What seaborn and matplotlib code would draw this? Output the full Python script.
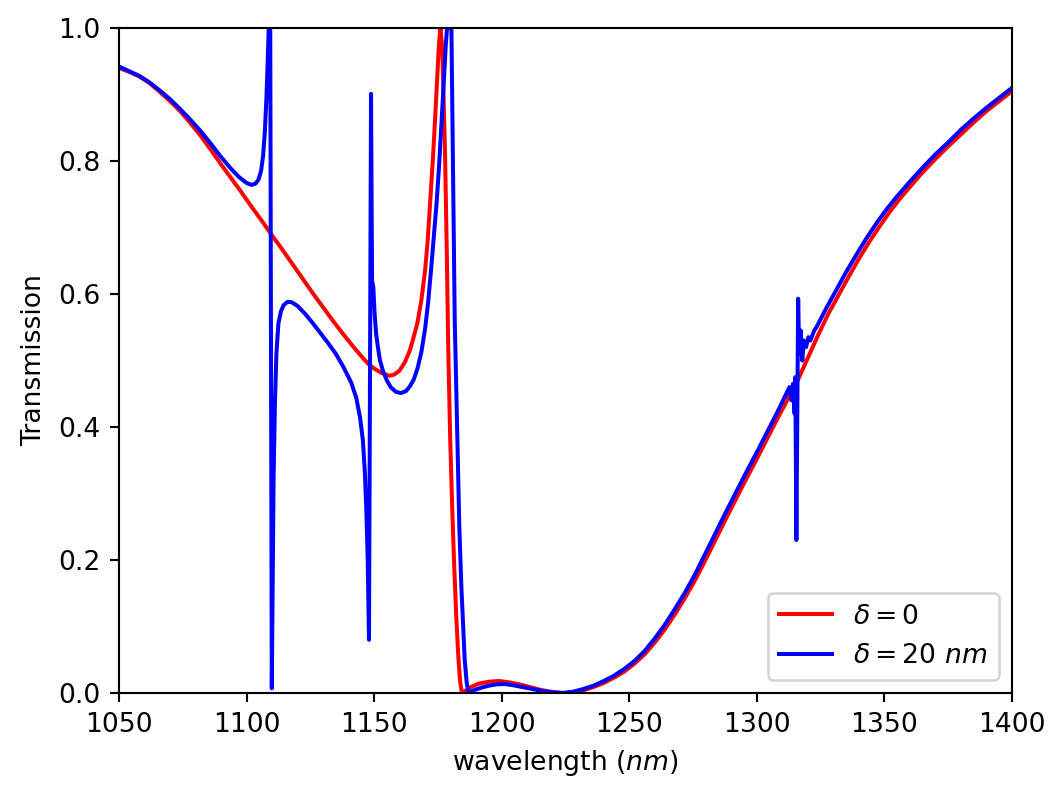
import numpy as np
import pandas as pd
import matplotlib
matplotlib.use("Agg")
import matplotlib.pyplot as plt
import seaborn as sns

# ---- data ----
wl_red = [1050, 1054, 1058, 1062, 1066, 1070, 1074, 1078, 1082, 1086, 1090, 1094, 1098,
          1102, 1106, 1110, 1114, 1118, 1122, 1126, 1130, 1134, 1138, 1142, 1146, 1148,
          1150, 1153, 1156, 1158, 1160, 1162, 1164, 1165.5, 1167, 1168.5, 1170, 1171,
          1172, 1173, 1174, 1174.8, 1175.4, 1176.0, 1176.7, 1177.2, 1177.8, 1178.5,
          1179.1, 1179.8, 1180.6, 1181.4, 1182.2, 1183.0, 1183.7, 1184.4,
          1186, 1188, 1191, 1195, 1199, 1203, 1207, 1211, 1215, 1219, 1224,
          1228, 1232, 1236, 1240, 1244, 1248, 1252, 1256, 1260, 1264, 1268, 1272, 1276,
          1280, 1284, 1288, 1292, 1296, 1300, 1304, 1308, 1312, 1316, 1320, 1324, 1328,
          1332, 1336, 1340, 1344, 1348, 1352, 1356, 1360, 1365, 1370, 1375, 1380, 1385,
          1390, 1395, 1400]
t_red = [0.940, 0.934, 0.927, 0.917, 0.904, 0.890, 0.875, 0.857, 0.838, 0.817, 0.795, 0.774, 0.753,
         0.731, 0.710, 0.688, 0.667, 0.645, 0.623, 0.601, 0.580, 0.559, 0.539, 0.520, 0.502, 0.494,
         0.488, 0.481, 0.477, 0.479, 0.485, 0.497, 0.515, 0.535, 0.557, 0.590, 0.636, 0.680,
         0.740, 0.800, 0.870, 0.930, 0.975, 1.000, 0.970, 0.900, 0.812, 0.660,
         0.510, 0.385, 0.280, 0.190, 0.115, 0.055, 0.018, 0.000,
         0.004, 0.009, 0.014, 0.017, 0.018, 0.016, 0.013, 0.009, 0.005, 0.002, 0.000,
         0.001, 0.004, 0.009, 0.015, 0.023, 0.032, 0.044, 0.058, 0.076, 0.096, 0.119, 0.144, 0.171,
         0.201, 0.232, 0.263, 0.293, 0.323, 0.352, 0.382, 0.412, 0.441, 0.470, 0.504, 0.538, 0.570,
         0.598, 0.626, 0.653, 0.678, 0.701, 0.723, 0.743, 0.761, 0.783, 0.803, 0.822, 0.840, 0.858,
         0.875, 0.890, 0.905]

wl_blue = [1050, 1054, 1058, 1062, 1066, 1070, 1074, 1078, 1082, 1086, 1090, 1094, 1097,
           1100, 1102, 1103.5, 1104.7, 1105.7, 1106.5, 1107.2, 1107.8, 1108.3, 1108.7, 1109.3,
           1109.9, 1110.2, 1110.6, 1111.1, 1111.7, 1112.5, 1113.5, 1114.5, 1116, 1117.5,
           1120, 1123, 1126, 1129, 1132, 1135, 1138, 1141, 1143, 1144.5, 1145.6, 1146.4,
           1147.0, 1147.5, 1148.0, 1148.8, 1149.2, 1149.7, 1150.2, 1150.8, 1151.5, 1152.3,
           1153.5, 1155, 1156.5, 1158.5, 1160.5, 1162.5, 1164, 1165.5, 1167, 1168.5, 1170,
           1171.2, 1172.4, 1173.5, 1174.5, 1175.5, 1176.5, 1177.4, 1178.1, 1178.6, 1180.3,
           1181.0, 1181.6, 1182.6, 1183.4, 1184.2, 1185.5, 1186.3, 1187.0,
           1189, 1192, 1195, 1198, 1201, 1204, 1208, 1212, 1216, 1220, 1224,
           1228, 1232, 1236, 1240, 1244, 1248, 1252, 1256, 1260, 1264, 1268, 1272, 1276,
           1280, 1284, 1288, 1292, 1296, 1300, 1304, 1308, 1311.7, 1312.8, 1313.6, 1314.2,
           1314.8, 1315.1, 1315.5, 1316.2, 1316.6, 1317.2, 1317.8, 1318.5, 1319.3, 1320.2,
           1321.0, 1322.5, 1323.5, 1327, 1331, 1335, 1339, 1343, 1347, 1351, 1355, 1360,
           1365, 1370, 1375, 1380, 1385, 1390, 1395, 1400]
t_blue = [0.942, 0.935, 0.928, 0.918, 0.906, 0.893, 0.878, 0.862, 0.845, 0.826, 0.806, 0.788, 0.776,
          0.767, 0.764, 0.766, 0.772, 0.785, 0.808, 0.845, 0.895, 0.950, 1.000, 1.000,
          0.007, 0.150, 0.320, 0.430, 0.510, 0.556, 0.574, 0.583, 0.588, 0.588,
          0.582, 0.570, 0.556, 0.541, 0.526, 0.510, 0.490, 0.467, 0.444, 0.414, 0.380, 0.330,
          0.270, 0.200, 0.080, 0.901, 0.620, 0.610, 0.570, 0.540, 0.520, 0.500,
          0.484, 0.470, 0.460, 0.453, 0.451, 0.454, 0.461, 0.471, 0.488, 0.512, 0.548,
          0.588, 0.640, 0.690, 0.737, 0.795, 0.862, 0.925, 0.975, 1.000, 1.000,
          0.761, 0.561, 0.385, 0.250, 0.160, 0.050, 0.015, 0.000,
          0.004, 0.008, 0.011, 0.013, 0.0135, 0.012, 0.009, 0.006, 0.003, 0.001, 0.000,
          0.002, 0.006, 0.011, 0.018, 0.026, 0.036, 0.048, 0.063, 0.082, 0.103, 0.127, 0.152, 0.180,
          0.211, 0.242, 0.273, 0.303, 0.333, 0.362, 0.392, 0.422, 0.451, 0.460, 0.440, 0.465,
          0.420, 0.475, 0.230, 0.593, 0.510, 0.545, 0.500, 0.530, 0.520, 0.535,
          0.530, 0.545, 0.551, 0.577, 0.605, 0.633, 0.659, 0.684, 0.707, 0.728, 0.747, 0.769,
          0.790, 0.810, 0.828, 0.847, 0.864, 0.880, 0.895, 0.910]

labels = [r'$\delta=0$', r'$\delta=20\ nm$']
colors = ['red', 'blue']

df_red = pd.DataFrame({'wavelength': wl_red, 'T': t_red})
df_blue = pd.DataFrame({'wavelength': wl_blue, 'T': t_blue})

DPI = 192
fig = plt.figure(figsize=(1064 / DPI, 797 / DPI), dpi=DPI)
ax = fig.add_axes([0.1118, 0.1305, 0.8393, 0.8344])

sns.lineplot(data=df_red, x='wavelength', y='T', ax=ax, color=colors[0],
             label=labels[0], linewidth=1.5, estimator=None, sort=False)
sns.lineplot(data=df_blue, x='wavelength', y='T', ax=ax, color=colors[1],
             label=labels[1], linewidth=1.5, estimator=None, sort=False)

ax.set_xlim(1050, 1400)
ax.set_ylim(0, 1)
ax.set_xticks(np.arange(1050, 1401, 50))
ax.set_yticks(np.arange(0, 1.01, 0.2))
ax.set_xlabel(r'wavelength ($nm$)')
ax.set_ylabel('Transmission')
ax.legend(loc='lower right')

fig.savefig('out.png', dpi=DPI)
